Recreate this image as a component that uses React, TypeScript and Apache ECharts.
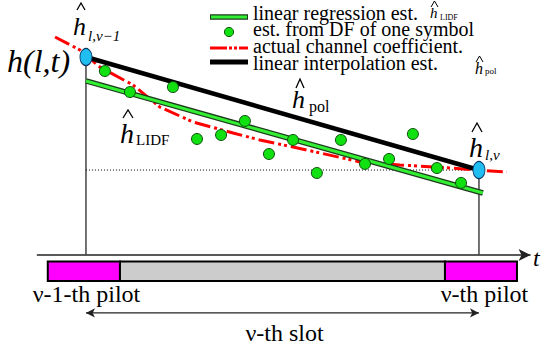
import React, { useEffect, useRef } from "react";
import * as echarts from "echarts";

// ---- data (time in symbol units, value = channel amplitude) ----
const pilotTimes = [0, 16];
const pilotEstimates = [1.0, 0.429];
const symbolTimes = [0.77, 1.79, 3.54, 4.52, 5.5, 6.47, 7.45, 8.43, 9.4, 10.38, 11.36, 12.34, 13.31, 14.29, 15.27];
const dfEstimates = [0.929, 0.823, 0.848, 0.586, 0.606, 0.677, 0.51, 0.581, 0.414, 0.581, 0.46, 0.485, 0.611, 0.439, 0.364];
const actualTimes = [-1.26, -0.24, 0.57, 1.91, 3.01, 4.36, 5.99, 7.08, 9.0, 11.16, 12.78, 14.82, 15.92, 17.14];
const actualValues = [1.101, 1.035, 0.949, 0.859, 0.747, 0.672, 0.616, 0.581, 0.53, 0.47, 0.455, 0.439, 0.429, 0.419];
const lidfTimes = [0, 16.16];
const lidfValues = [0.879, 0.313];
const timeAxisRange = [-2.0, 18.1];
const frameEdges = [-1.555, 1.384, 14.616, 17.547];
const frameKinds = ["pilot", "data", "pilot"];
const frameLevels = [-0.033, -0.131];
const slotArrowLevel = -0.293;
const legendNames = [
  "linear regression est.",
  "est. from DF of one symbol",
  "actual channel coefficient.",
  "linear interpolation est.",
];

function ttl(text: string, x: number, base: number, size: number, italic: boolean, align: string = "left") {
  return {
    text,
    left: x,
    top: base - 0.84 * size,
    padding: 0,
    textAlign: align,
    textStyle: {
      fontFamily: "Liberation Serif",
      fontSize: size,
      fontStyle: italic ? "italic" : "normal",
      fontWeight: "normal",
      color: "#000",
      lineHeight: size,
    },
  };
}

function hat(x0: number, x1: number, yTop: number, yBot: number, w: number = 1.2) {
  return {
    type: "polyline",
    shape: { points: [[x0, yBot], [(x0 + x1) / 2, yTop], [x1, yBot]] },
    style: { stroke: "#000", lineWidth: w, fill: null },
  };
}

function seg(x1: number, y1: number, x2: number, y2: number, stroke: string, lineWidth: number) {
  return { type: "line", shape: { x1, y1, x2, y2 }, style: { stroke, lineWidth } };
}

export default function App() {
  const ref = useRef<HTMLDivElement>(null);
  useEffect(() => {
    document.body.style.margin = "0";
    const chart = echarts.init(ref.current!, null, { renderer: "svg" });
    const pair = (xs: number[], ys: number[]) => xs.map((x, i) => [x, ys[i]]);
    const frameAreas = frameKinds.map((k, i) => [
      {
        coord: [frameEdges[i], frameLevels[0]],
        itemStyle: { color: k === "pilot" ? "#ff00ff" : "#cccccc", borderColor: "#000", borderWidth: 2, opacity: 1 },
      },
      { coord: [frameEdges[i + 1], frameLevels[1]] },
    ]);
    const redDash = { type: "line", shape: { x1: 210, y1: 48, x2: 248, y2: 48 }, style: { stroke: "#ff0000", lineWidth: 3, lineDash: [17, 2, 3, 2, 3, 2] } };

    const option: any = {
      animation: false,
      textStyle: { fontFamily: "Liberation Serif" },
      title: [
        ttl(legendNames[0], 253, 20, 20, false),
        ttl(legendNames[1], 253, 36, 20, false),
        ttl(legendNames[2], 253, 53, 20, false),
        ttl(legendNames[3], 253, 70, 20, false),
        ttl("h", 430, 18, 15, true),
        ttl("LIDF", 440, 20, 8, false),
        ttl("h", 475, 74, 16, true),
        ttl("pol", 485, 74, 9, false),
        ttl("h(l,t)", 7, 72, 32, true),
        ttl("h", 73, 35, 26, true),
        ttl("l,ν−1", 88, 41, 15, true),
        ttl("h", 292, 108, 26, true),
        ttl("pol", 309, 112, 16, false),
        ttl("h", 120, 143, 28, true),
        ttl("LIDF", 136, 145, 15, false),
        ttl("h", 469, 157, 28, true),
        ttl("l,ν", 485, 160, 15, true),
        ttl("t", 533, 266, 24, true),
        ttl("ν-1-th pilot", 86.5, 302, 24, false, "center"),
        ttl("ν-th pilot", 484.5, 302, 24, false, "center"),
        ttl("ν-th slot", 284.5, 341, 24, false, "center"),
      ],
      grid: { left: 0, right: 0, top: 0, bottom: 0 },
      xAxis: { type: "value", min: -3.5, max: 18.77, show: false },
      yAxis: { type: "value", min: -0.465, max: 1.288, show: false },
      series: [
        {
          type: "line",
          name: "time axis",
          data: [
            { value: [timeAxisRange[0], 0], symbol: "none" },
            { value: [timeAxisRange[1], 0], symbol: "arrow", symbolRotate: -90, symbolSize: [9, 12] },
          ],
          lineStyle: { color: "#222", width: 1.5 },
          itemStyle: { color: "#222" },
          markArea: { silent: true, label: { show: false }, data: frameAreas },
          z: 1,
        },
        ...pilotTimes.map((t, i) => ({
          type: "line",
          name: "pilot marker " + i,
          data: [[t, 0], [t, pilotEstimates[i]]],
          symbol: "none",
          lineStyle: { color: "#444", width: 1.5 },
          z: 1,
        })),
        {
          type: "line",
          name: "level",
          data: [[pilotTimes[0], pilotEstimates[1]], [pilotTimes[1], pilotEstimates[1]]],
          symbol: "none",
          lineStyle: { color: "#000", width: 1, type: [1, 2] },
          z: 1,
        },
        {
          type: "line",
          name: "slot",
          data: [
            { value: [pilotTimes[0], slotArrowLevel], symbol: "arrow", symbolRotate: 90, symbolSize: [7, 9] },
            { value: [pilotTimes[1], slotArrowLevel], symbol: "arrow", symbolRotate: -90, symbolSize: [7, 9] },
          ],
          lineStyle: { color: "#222", width: 1.2 },
          itemStyle: { color: "#222" },
          z: 1,
        },
        {
          type: "line",
          name: legendNames[2],
          data: pair(actualTimes, actualValues),
          symbol: "none",
          lineStyle: { color: "#ff0000", width: 3, type: [16, 4, 3, 3, 3, 4] },
          z: 3,
        },
        {
          type: "line",
          name: "lidf-outline",
          data: pair(lidfTimes, lidfValues),
          symbol: "none",
          lineStyle: { color: "#1c3a1c", width: 5.5 },
          z: 4,
        },
        {
          type: "line",
          name: legendNames[0],
          data: pair(lidfTimes, lidfValues),
          symbol: "none",
          lineStyle: { color: "#33ee33", width: 3 },
          z: 5,
        },
        {
          type: "line",
          name: legendNames[3],
          data: pair(pilotTimes, pilotEstimates),
          symbol: "none",
          lineStyle: { color: "#000", width: 4.5 },
          z: 6,
        },
        {
          type: "scatter",
          name: legendNames[1],
          data: pair(symbolTimes, dfEstimates),
          symbol: "circle",
          symbolSize: 11,
          itemStyle: { color: "#11e011", borderColor: "#0b4d0b", borderWidth: 1, opacity: 1 },
          z: 7,
        },
        {
          type: "scatter",
          name: "pilot estimates",
          data: pair(pilotTimes, pilotEstimates),
          symbol: "circle",
          symbolSize: [12, 17],
          itemStyle: { color: "#1fbdf0", borderColor: "#0b3566", borderWidth: 1, opacity: 1 },
          z: 8,
        },
      ],
      graphic: [
        seg(210, 17, 248, 17, "#1c3a1c", 5.5),
        seg(211, 17, 247, 17, "#33ee33", 3),
        { type: "circle", shape: { cx: 229, cy: 32, r: 4.6 }, style: { fill: "#11e011", stroke: "#0b4d0b", lineWidth: 1 } },
        redDash,
        seg(210, 62, 248, 62, "#000", 5),
        hat(431, 438, 1, 7, 1),
        hat(476, 483, 56, 62, 1),
        hat(77, 85, 3, 10, 1.3),
        hat(296, 304, 79, 88, 1.3),
        hat(123, 133, 110, 118, 1.3),
        hat(472, 482, 123, 132, 1.3),
      ],
    };
    chart.setOption(option);
    return () => chart.dispose();
  }, []);
  return <div ref={ref} style={{ width: 547, height: 347 }} />;
}
